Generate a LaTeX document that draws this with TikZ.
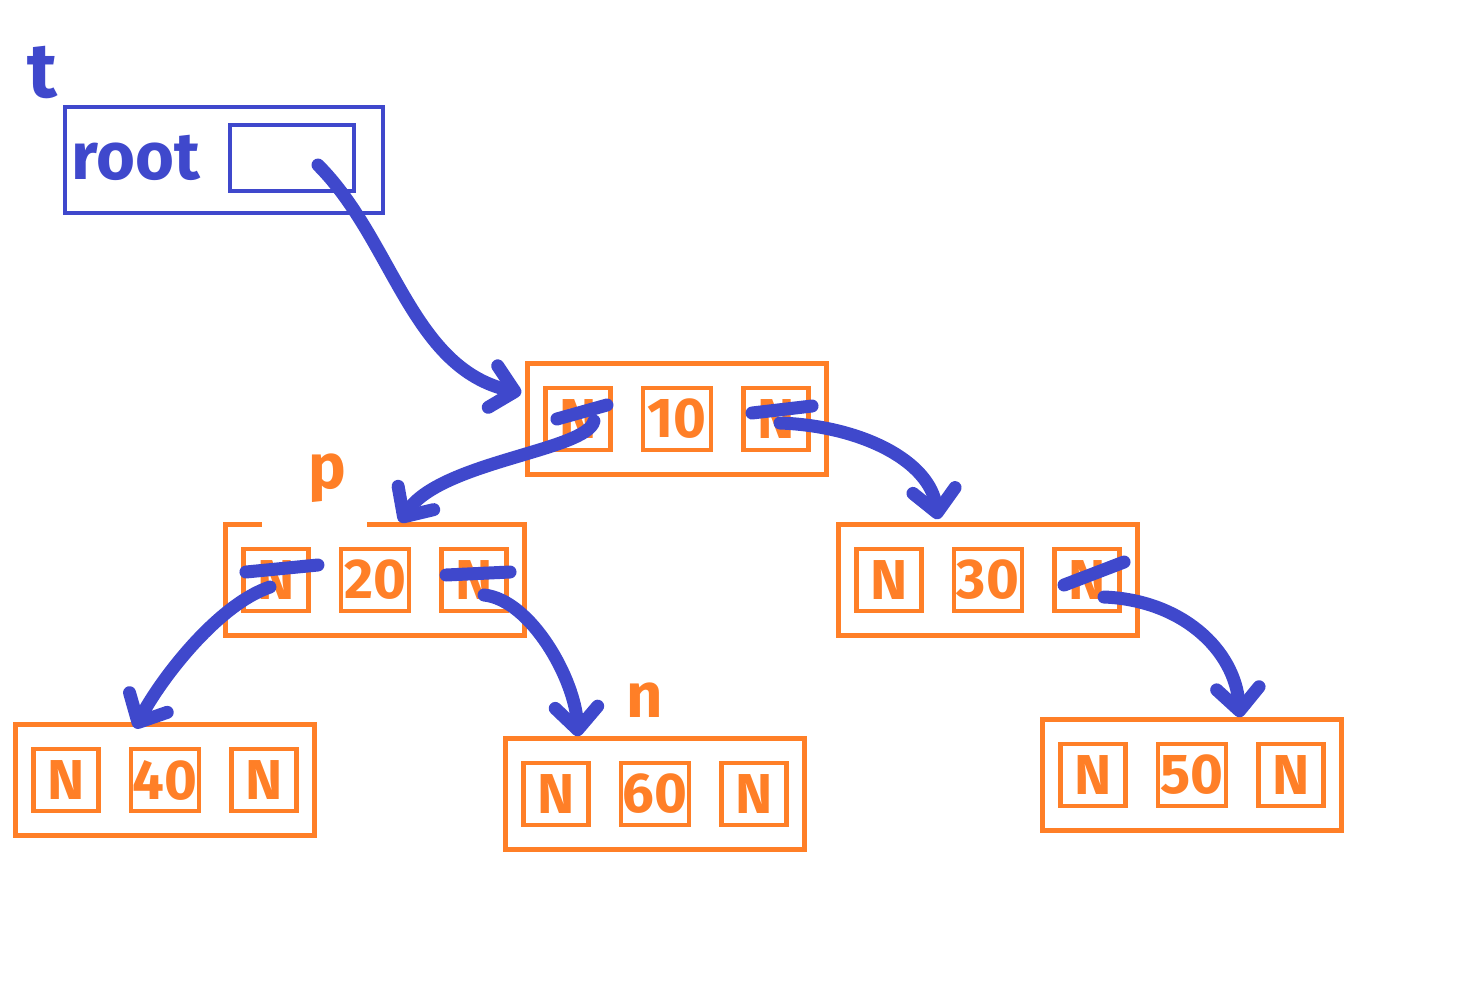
\documentclass[tikz,border=0pt]{standalone}
\usepackage{fontspec}
\setmainfont{Fira Sans}
\usetikzlibrary{positioning,calc,arrows.meta}
\definecolor{paintorange}{RGB}{255,127,39}
\definecolor{paintblue}{RGB}{63,72,204}
\tikzset{
  outerbox/.style={draw=paintorange, line width=2.6pt, minimum width=5.98cm, minimum height=2.22cm, inner sep=0pt},
  cell/.style={draw=paintorange, line width=2.6pt, minimum width=1.3cm, minimum height=1.24cm, inner sep=0pt, text=paintorange, font=\fontsize{32}{32}\selectfont\bfseries},
  midcell/.style={cell, minimum width=1.36cm},
  strike/.style={draw=paintblue, line width=7.4pt, line cap=round},
  ptr/.style={strike, -{Straight Barb[length=0.45cm,width=0.85cm,round]}},
  lbl/.style={font=\fontsize{36}{36}\selectfont\bfseries, inner sep=0pt},
}
\begin{document}
\begin{tikzpicture}[x=0.02cm, y=-0.02cm]
\useasboundingbox (0,0) rectangle (1472,992);

% root pointer
\node[lbl, text=paintblue, font=\fontsize{44}{44}\selectfont\bfseries] (tname) at (42,72) {t};
\node[outerbox, draw=paintblue, minimum width=6.36cm, minimum height=2.12cm] (rootbox) at (224,160) {};
\node[lbl, text=paintblue, font=\fontsize{38}{38}\selectfont\bfseries] (rootlbl) at (136,158) {root};
\node[draw=paintblue, line width=2.6pt, minimum width=2.48cm, minimum height=1.32cm] (rootptr) at (292,158) {};

% tree nodes
\foreach \nm/\x/\y in {10/677/419, 20/375/580, 30/988/580, 40/165/780, 60/655/794, 50/1192/775}{
  \node[outerbox] (box\nm) at (\x,\y) {};
  \node[midcell] (mid\nm) at (\x,\y) {\nm};
  \node[cell, left=0.56cm of mid\nm] (lft\nm) {N};
  \node[cell, right=0.56cm of mid\nm] (rgt\nm) {N};
}
\draw[white, line width=3.6pt] ($(box20.north)+(-113,2)$) -- ($(box20.north)+(-8,2)$);

\node[lbl, text=paintorange] (plbl) at (327,478) {p};
\node[lbl, text=paintorange] (nlbl) at (645,700) {n};

% crossed out links
\draw[strike] ($(lft10)+(-21,0)$) -- ($(lft10)+(29,-14)$);
\draw[strike] ($(rgt10)+(-24,-6)$) -- ($(rgt10)+(36,-13)$);
\draw[strike] ($(lft20)+(-30,-8)$) -- ($(lft20)+(42,-15)$);
\draw[strike] ($(rgt20)+(-28,-5)$) -- ($(rgt20)+(36,-8)$);
\draw[strike] ($(rgt30)+(-23,5)$) -- ($(rgt30)+(37,-18)$);

% links
\draw[ptr] ($(rootptr)+(26,7)$) .. controls +(75,75) and +(-110,-25) .. ($(box10.west)+(-4,-26)$);
\draw[ptr] ($(lft10)+(16,2)$) .. controls +(-7,30) and +(40,-61) .. ($(box20.north)+(25,0)$);
\draw[ptr] ($(rgt10)+(4,4)$) .. controls +(82,3) and +(-8,-58) .. ($(box30.north)+(-50,-3)$);
\draw[ptr] ($(lft20)+(-6,7)$) .. controls +(-53,18) and +(25,-48) .. ($(box40.north)+(-30,6)$);
\draw[ptr] ($(rgt20)+(10,15)$) .. controls +(47,5) and +(-3,-57) .. ($(box60.north)+(-77,0)$);
\draw[ptr] ($(rgt30)+(17,17)$) .. controls +(77,3) and +(-5,-68) .. ($(box50.north)+(48,0)$);
\end{tikzpicture}
\end{document}
